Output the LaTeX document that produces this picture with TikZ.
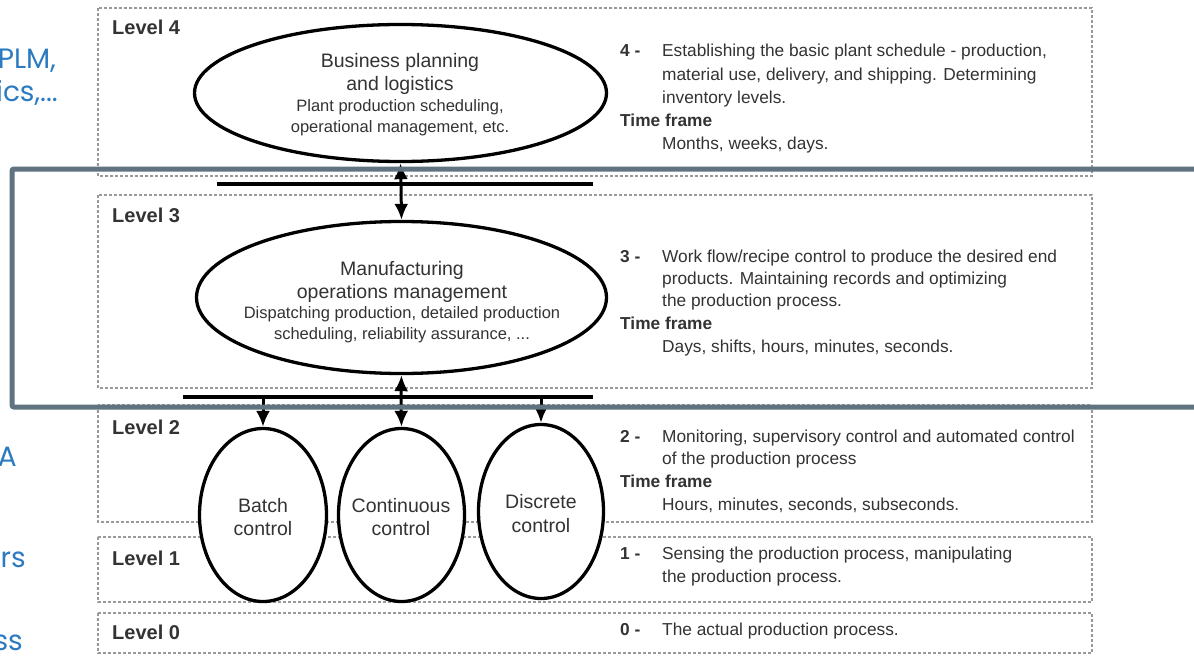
\documentclass[tikz,border=0pt]{standalone}
\usepackage{fontspec}
\setmainfont{Liberation Sans}
\newfontfamily\sidefont{Poppins}
\usetikzlibrary{shapes.geometric,arrows.meta}
\definecolor{txt}{HTML}{333333}
\definecolor{dashgray}{HTML}{9A9A9A}
\definecolor{slate}{HTML}{5F7380}
\definecolor{sideblue}{HTML}{2C7BC0}
\begin{document}
\begin{tikzpicture}[x=1pt,y=-1pt,
  levelbox/.style={draw=dashgray,line width=1.1pt,dash pattern=on 3pt off 2pt},
  oval/.style={draw=black,fill=white,line width=3.3pt,ellipse,inner sep=0pt},
  lvl/.style={anchor=base west,inner sep=0pt,font=\fontsize{20}{23}\selectfont\bfseries,text=txt},
  num/.style={anchor=base west,inner sep=0pt,font=\fontsize{17.3}{23}\selectfont\bfseries,text=txt},
  body/.style={anchor=base west,inner sep=0pt,font=\fontsize{17.3}{23}\selectfont,text=txt},
  big/.style={anchor=base,inner sep=0pt,font=\fontsize{19.5}{23}\selectfont,text=txt},
  small/.style={anchor=base,inner sep=0pt,font=\fontsize{16.5}{21}\selectfont,text=txt},
  bus/.style={line width=4pt,line cap=butt},
  arr/.style={line width=3pt,-{Latex[length=16pt,width=14pt]}},
  sidetxt/.style={anchor=base east,inner sep=0pt,font=\sidefont\fontsize{28}{34}\selectfont,text=sideblue},
  panel/.style={draw=slate,line width=5pt,rounded corners=2pt}
]
\fill[white] (0,0) rectangle (1194,656);
\useasboundingbox (0,0) rectangle (1194,656);

% level boxes
\draw[levelbox] (98,8) rectangle (1092,176);
\draw[levelbox] (98,195) rectangle (1092,388);
\draw[levelbox] (98,405) rectangle (1092,522);
\draw[levelbox] (98,537) rectangle (1092,602);
\draw[levelbox] (98,613) rectangle (1092,653);

% level labels
\node[lvl] (l4) at (112,34) {Level 4};
\node[lvl] (l3) at (112,222) {Level 3};
\node[lvl] (l2) at (112,434) {Level 2};
\node[lvl] (l1) at (112,565) {Level 1};
\node[lvl] (l0) at (112,639) {Level 0};

% buses
\coordinate (bus1l) at (217,184);
\coordinate (bus1r) at (593,184);
\coordinate (bus1) at (401,184);
\coordinate (bus2l) at (183,397);
\coordinate (bus2r) at (593,397);
\coordinate (bus2) at (401,397);
\draw[bus] (bus1l) -- (bus1r);
\draw[bus] (bus2l) -- (bus2r);

% ellipses
\node[oval,minimum width=412pt,minimum height=137pt] (bp) at (400.5,93) {};
\node[oval,minimum width=410pt,minimum height=152pt] (mom) at (401.5,297.5) {};
\node[oval,minimum width=127pt,minimum height=173pt] (batch) at (263,515) {};
\node[oval,minimum width=126pt,minimum height=173pt] (cont) at (401.5,515) {};
\node[oval,minimum width=125pt,minimum height=174pt] (disc) at (541,511.5) {};

% arrows
\draw[arr] (bus1) -- (bp.south);
\draw[arr] (bus1) -- (mom.north);
\draw[arr] (bus2) -- (mom.south);
\draw[arr] (bus2) -- (cont.north);
\draw[arr] (batch.north |- bus2) -- (batch.north);
\draw[arr] (disc.north |- bus2) -- (disc.north);

% ellipse texts
\node[big] (bp1) at (400,67) {Business planning};
\node[big] (bp2) at (400,90) {and logistics};
\node[small] (bp3) at (400,111) {Plant production scheduling,};
\node[small] (bp4) at (400,132) {operational management, etc.};
\node[big] (m1) at (402,275) {Manufacturing};
\node[big] (m2) at (402,298) {operations management};
\node[small] (m3) at (402,318) {Dispatching production, detailed production};
\node[small] (m4) at (402,339) {scheduling, reliability assurance, ...};
\node[big] (b1) at (263,512) {Batch};
\node[big] (b2) at (263,535) {control};
\node[big] (c1) at (401,512) {Continuous};
\node[big] (c2) at (401,535) {control};
\node[big] (d1) at (541,508) {Discrete};
\node[big] (d2) at (541,532) {control};

% right descriptions
\node[num] (n4) at (620,56) {4 -};
\node[body] (r4a) at (662,56) {Establishing the basic plant schedule - production,};
\node[body] (r4b) at (662,80) {material use, delivery, and shipping. Determining};
\node[body] (r4c) at (662,103) {inventory levels.};
\node[num] (tf4) at (620,126) {Time frame};
\node[body] (r4d) at (662,149) {Months, weeks, days.};

\node[num] (n3) at (620,262) {3 -};
\node[body] (r3a) at (662,262) {Work flow/recipe control to produce the desired end};
\node[body] (r3b) at (662,284) {products. Maintaining records and optimizing};
\node[body] (r3c) at (662,306) {the production process.};
\node[num] (tf3) at (620,329) {Time frame};
\node[body] (r3d) at (662,352) {Days, shifts, hours, minutes, seconds.};

\node[num] (n2) at (620,442) {2 -};
\node[body] (r2a) at (662,442) {Monitoring, supervisory control and automated control};
\node[body] (r2b) at (662,464) {of the production process};
\node[num] (tf2) at (620,487) {Time frame};
\node[body] (r2d) at (662,510) {Hours, minutes, seconds, subseconds.};

\node[num] (n1) at (620,559) {1 -};
\node[body] (r1a) at (662,559) {Sensing the production process, manipulating};
\node[body] (r1b) at (662,582) {the production process.};

\node[num] (n0) at (620,635) {0 -};
\node[body] (r0a) at (662,635) {The actual production process.};

% cut-off side texts
\node[sidetxt] (s1) at (56,68) {PLM,};
\node[sidetxt] (s2) at (58,101) {ics,...};
\node[sidetxt] (s3) at (17,466) {A};
\node[sidetxt] (s4) at (26,567) {rs};
\node[sidetxt] (s5) at (23,650) {ss};

% highlight panel
\draw[panel] (12,169) rectangle (1210,407);
\end{tikzpicture}
\end{document}
